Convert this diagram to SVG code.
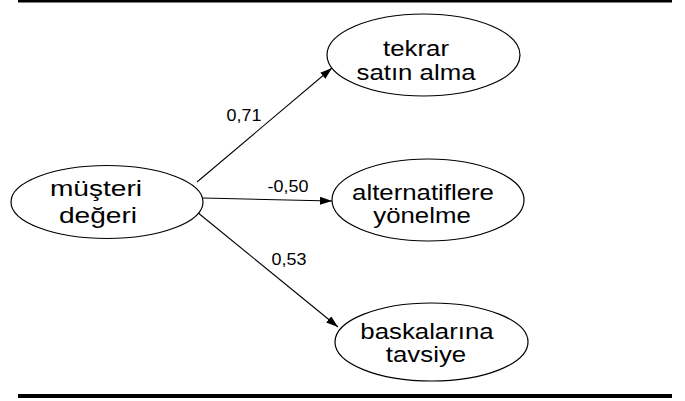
<svg xmlns="http://www.w3.org/2000/svg" width="685" height="401" viewBox="0 0 685 401">
  <style>
    .node { fill: #ffffff; stroke: #000000; stroke-width: 1.2; }
    .lbl { font-family: "Liberation Sans", Arial, sans-serif; font-size: 21.5px; fill: #000000; text-anchor: middle; }
    .lbl-lg { font-size: 22.5px; }
    .coef { font-family: "Liberation Sans", Arial, sans-serif; font-size: 16px; fill: #000000; text-anchor: middle; }
    .edge { stroke: #000000; stroke-width: 1.1; fill: none; marker-end: url(#arrow); }
    .rule { fill: #000000; }
  </style>
  <defs>
    <marker id="arrow" viewBox="0 0 12 8" refX="12" refY="4" markerWidth="12" markerHeight="8" markerUnits="userSpaceOnUse" orient="auto">
      <path d="M0,0 L12,4 L0,8 Z" fill="#000000"/>
    </marker>
  </defs>

  <!-- horizontal rules -->
  <rect class="rule" x="18" y="0" width="654" height="2.5"/>
  <rect class="rule" x="18" y="394" width="654" height="4"/>

  <!-- connectors -->
  <g id="connectors">
    <line class="edge" x1="197" y1="182" x2="332" y2="68"/>
    <line class="edge" x1="203" y1="198" x2="332" y2="201"/>
    <line class="edge" x1="197" y1="212" x2="338" y2="327"/>
    <text class="coef" transform="translate(244,121) scale(1.12,1)">0,71</text>
    <text class="coef" transform="translate(288,192) scale(1.12,1)">-0,50</text>
    <text class="coef" transform="translate(289,265) scale(1.12,1)">0,53</text>
  </g>

  <g id="musteri-degeri">
    <ellipse class="node" cx="107" cy="202" rx="96" ry="36.5"/>
    <text class="lbl lbl-lg" transform="translate(96,196) scale(1.25,1)">müşteri</text>
    <text class="lbl lbl-lg" transform="translate(98,223) scale(1.25,1)">değeri</text>
  </g>

  <g id="tekrar-satin-alma">
    <ellipse class="node" cx="423.5" cy="55" rx="96.5" ry="41"/>
    <text class="lbl" transform="translate(416,56) scale(1.2,1)">tekrar</text>
    <text class="lbl" transform="translate(416,80) scale(1.2,1)">satın alma</text>
  </g>

  <g id="alternatiflere-yonelme">
    <ellipse class="node" cx="428" cy="200" rx="96" ry="41"/>
    <text class="lbl" transform="translate(423,200) scale(1.2,1)">alternatiflere</text>
    <text class="lbl" transform="translate(422,223) scale(1.2,1)">yönelme</text>
  </g>

  <g id="baskalarina-tavsiye">
    <ellipse class="node" cx="431.5" cy="342" rx="96.5" ry="39"/>
    <text class="lbl" transform="translate(427,339) scale(1.2,1)">baskalarına</text>
    <text class="lbl" transform="translate(426,362) scale(1.2,1)">tavsiye</text>
  </g>
</svg>
